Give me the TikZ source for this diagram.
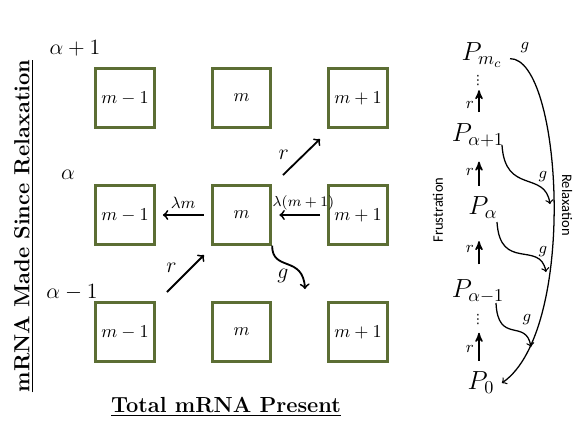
\documentclass[tikz,border=0pt]{standalone}
\usepackage{amsmath}
\usepackage{fontspec}
\newfontfamily\calfont{Carlito}
\newfontfamily\symfont{DejaVu Sans}
\usetikzlibrary{arrows}
\definecolor{boxgreen}{RGB}{92,110,52}
\tikzset{cell/.style={draw=boxgreen,line width=1.7pt,minimum size=32pt,inner sep=0pt},
  rate/.style={->,line width=1pt},
  climb/.style={-stealth',line width=0.8pt},
  decay/.style={->,line width=0.7pt},
  pstate/.style={font=\Large,inner sep=0pt},
  gap/.style={font=\symfont\scriptsize,inner sep=0pt}}

\begin{document}
\begin{tikzpicture}[x=0.55pt,y=-0.55pt]
\useasboundingbox (0,0) rectangle (581,436);
% grid of states
\foreach \r/\yy in {t/98,c/215,b/332}
  \foreach \c/\xx/\lab in {l/125/m-1,m/241.5/m,r/358/m+1}
    \node[cell] (\r\c) at (\xx,\yy) {$\lab$};
\node[font=\large] (ap) at (75,48) {$\alpha+1$};
\node[font=\large] (a0) at (68,175) {$\alpha$};
\node[font=\large] (am) at (72,292) {$\alpha-1$};
\node[rotate=90,font=\large\bfseries] (ylab) at (24,226) {\underline{mRNA Made Since Relaxation}};
\node[font=\large\bfseries] (xlab) at (226,407) {\underline{Total mRNA Present}};
% transitions
\coordinate (r1s) at (283,175); \coordinate (r1e) at (320,139);
\coordinate (r2s) at (167,292); \coordinate (r2e) at (204,255);
\coordinate (gend) at (305,289);
\draw[rate] (r1s)--(r1e) node[pos=0.3,above left=-1pt,font=\large] {$r$};
\draw[rate] (r2s)--(r2e) node[pos=0.4,above left=-1pt,font=\large] {$r$};
\draw[rate] ([xshift=-4pt]cm.west)--([xshift=4pt]cl.east) node[midway,above=0pt,font=\small] {$\lambda m$};
\draw[rate] ([xshift=-4pt]cr.west)--([xshift=4pt]cm.east) node[midway,above=-1pt,font=\footnotesize,xshift=2pt] {$\lambda(m+1)$};
\draw[rate] (cm.south east) .. controls (272,272) and (303,255) .. (gend);
\node[font=\large] (gl) at (283,276) {$g$};
% ladder of P states
\coordinate (spine) at (479,0);
\node[pstate] (Pmc) at (482,55) {$P_{m_c}$};
\node[gap] (d1) at (478,81) {⋮};
\node[pstate] (Pa1) at (478,135) {$P_{\alpha+1}$};
\node[pstate] (Pa) at (483,208) {$P_{\alpha}$};
\node[pstate] (Pam) at (478,291) {$P_{\alpha-1}$};
\node[gap] (d2) at (478,320) {⋮};
\node[pstate] (P0) at (481,383) {$P_0$};
\draw[climb,shorten <=6pt,shorten >=2pt] (Pa1.north -| spine)--(d1.south -| spine) node[midway,left=-1pt,font=\small] {$r$};
\draw[climb,shorten <=6pt,shorten >=8pt] (Pa.north -| spine)--(Pa1.south -| spine) node[midway,left=-1pt,font=\small] {$r$};
\draw[climb,shorten <=8pt,shorten >=12pt] (Pam.north -| spine)--(Pa.south -| spine) node[midway,left=-1pt,font=\small] {$r$};
\draw[climb,shorten <=6pt,shorten >=4pt] (P0.north -| spine)--(d2.south -| spine) node[midway,left=-1pt,font=\small] {$r$};
\coordinate (g1) at (550,204); \coordinate (g2) at (546,272); \coordinate (g3) at (531,347);
\draw[decay] (502,145) .. controls (505,195) and (545,170) .. (g1);
\draw[decay] (497,222) .. controls (500,272) and (540,240) .. (g2);
\draw[decay] (496,303) .. controls (498,345) and (526,318) .. (g3);
\node[font=\small] at (543,177) {$g$};
\node[font=\small] at (543,252) {$g$};
\node[font=\small] at (527,320) {$g$};
\draw[decay] ([xshift=4pt,yshift=-2pt]Pmc.east) .. controls (562,58) and (578,330) .. ([xshift=4pt]P0.east);
\node[font=\small] (gtop) at (525,48) {$g$};
\node[rotate=-90,font=\calfont\footnotesize] (relax) at (567,205) {Relaxation};
\node[rotate=90,font=\calfont\footnotesize] (frus) at (438,210) {Frustration};
\end{tikzpicture}
\end{document}
